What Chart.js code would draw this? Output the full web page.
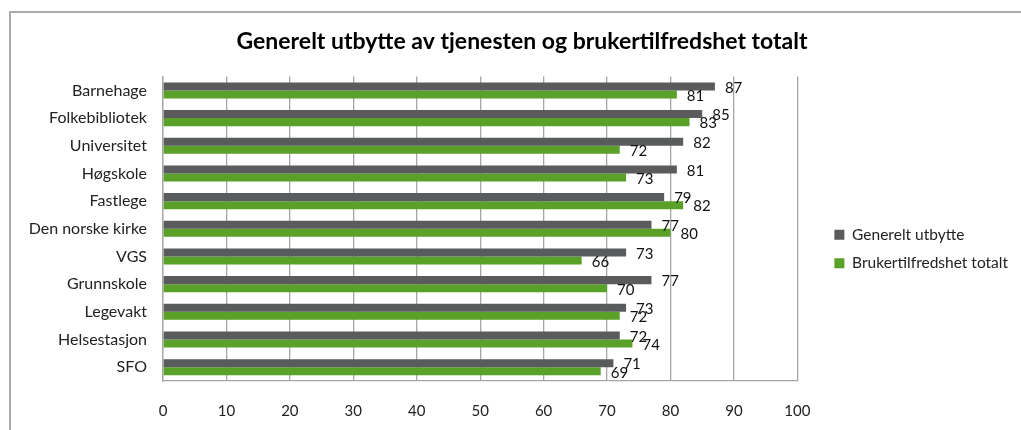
<!DOCTYPE html>
<html><head><meta charset="utf-8">
<script src="https://cdn.jsdelivr.net/npm/chart.js@4.4.1/dist/chart.umd.min.js"></script>
<style>
html,body{margin:0;padding:0;background:#fff;}
#wrap{position:relative;width:1021px;height:430px;overflow:hidden;}
#frame{position:absolute;left:9px;top:11px;width:1100px;height:500px;border:2px solid #ababab;box-sizing:border-box;}
canvas{position:absolute;left:0;top:0;}
</style></head><body>
<div id="wrap"><div id="frame"></div><canvas id="c" width="1021" height="430"></canvas></div>
<script>
const titleText = 'Generelt utbytte av tjenesten og brukertilfredshet totalt';
const categories = ['Barnehage','Folkebibliotek','Universitet','Høgskole','Fastlege','Den norske kirke','VGS','Grunnskole','Legevakt','Helsestasjon','SFO'];
const seriesNames = ['Generelt utbytte','Brukertilfredshet totalt'];
const generelt = [87,85,82,81,79,77,73,77,73,72,71];
const bruker = [81,83,72,73,82,80,66,70,72,74,69];
const xTicks = [0,10,20,30,40,50,60,70,80,90,100];
const colors = ['#5a5b5d','#5aa12a'];

const FONT = 'Lato';
const valueLabels = {
  id:'valueLabels',
  afterDatasetsDraw(chart){
    const ctx = chart.ctx;
    ctx.save();
    ctx.font = '15px ' + FONT;
    ctx.fillStyle = '#111';
    ctx.textAlign = 'left';
    ctx.textBaseline = 'middle';
    chart.data.datasets.forEach((ds,i)=>{
      chart.getDatasetMeta(i).data.forEach((el,j)=>{
        ctx.fillText(String(Math.round(ds.data[j])), el.x + 10, el.y + 1.5);
      });
    });
    ctx.restore();
  }
};

new Chart(document.getElementById('c'), {
  type:'bar',
  data:{
    labels: categories,
    datasets:[
      {label:seriesNames[0], data:generelt, backgroundColor:colors[0], borderWidth:0, barPercentage:1, categoryPercentage:0.58},
      {label:seriesNames[1], data:bruker, backgroundColor:colors[1], borderWidth:0, barPercentage:1, categoryPercentage:0.58}
    ]
  },
  options:{
    indexAxis:'y',
    responsive:false,
    animation:false,
    devicePixelRatio:1,
    layout:{padding:{left:26,right:3,top:0,bottom:0}},
    plugins:{
      title:{display:true,text:titleText,color:'#000',font:{family:FONT,size:23,weight:'bold'},padding:{top:28,bottom:21}},
      legend:{position:'right',align:'center',maxWidth:400,
        title:{display:true,text:' ',font:{size:1},padding:{top:67,bottom:0}},
        labels:{boxWidth:10,boxHeight:10,padding:13,color:'#222',font:{family:FONT,size:15.5}}},
      tooltip:{enabled:false}
    },
    scales:{
      x:{type:'linear',min:0,max:100,
        afterBuildTicks(s){ s.ticks = xTicks.map(v=>({value:v})); },
        ticks:{color:'#222',font:{family:FONT,size:15},padding:21},
        grid:{color:'#a6a6a6',lineWidth:1.3,drawTicks:false},
        border:{display:true,color:'#a6a6a6',width:1.3},
        afterFit(s){ s.height = 49; }
      },
      y:{type:'category',
        ticks:{color:'#222',font:{family:FONT,size:16},padding:16},
        grid:{display:false,drawTicks:false},
        border:{display:true,color:'#a6a6a6',width:1.3},
        afterFit(s){ s.width = 137; }
      },
      y2:{type:'category',position:'right',display:true,
        ticks:{display:false},grid:{display:false,drawTicks:false},border:{display:false},
        afterFit(s){ s.width = 24; }
      }
    }
  },
  plugins:[valueLabels]
});
</script>
</body></html>
